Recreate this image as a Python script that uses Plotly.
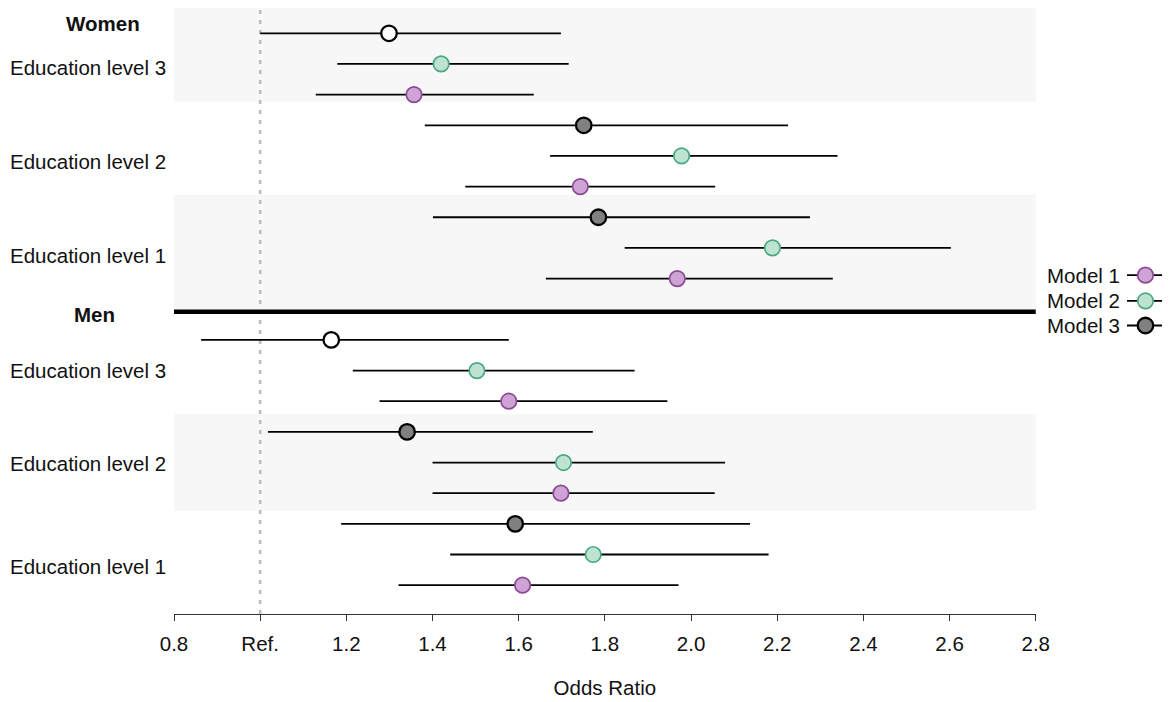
import plotly.graph_objects as go

# categories
groups = ["Women", "Men"]
levels = ["Education level 3", "Education level 2", "Education level 1"]
models = ["Model 1", "Model 2", "Model 3"]

# odds ratios and 95% CI, order: Women L3, L2, L1, Men L3, L2, L1
m1_or = [1.357, 1.743, 1.968, 1.577, 1.698, 1.609]
m1_lo = [1.129, 1.476, 1.663, 1.277, 1.400, 1.321]
m1_hi = [1.635, 2.056, 2.329, 1.945, 2.055, 1.971]

m2_or = [1.420, 1.978, 2.189, 1.503, 1.704, 1.773]
m2_lo = [1.179, 1.673, 1.846, 1.215, 1.400, 1.441]
m2_hi = [1.716, 2.340, 2.603, 1.869, 2.079, 2.180]

m3_or = [1.299, 1.751, 1.785, 1.165, 1.341, 1.592]
m3_lo = [1.000, 1.382, 1.401, 0.863, 1.018, 1.188]
m3_hi = [1.698, 2.225, 2.276, 1.577, 1.772, 2.137]

tick_vals = [0.8, 1.0, 1.2, 1.4, 1.6, 1.8, 2.0, 2.2, 2.4, 2.6, 2.8]
tick_text = ["0.8", "Ref.", "1.2", "1.4", "1.6", "1.8", "2.0", "2.2", "2.4", "2.6", "2.8"]

# styling
FONT = "Liberation Sans, Arial, sans-serif"
FS = 20.5
fills = {"Model 1": "#cfa3d6", "Model 2": "#bfe3d1", "Model 3": "#808080"}
edges = {"Model 1": "#8a4b94", "Model 2": "#4aa884", "Model 3": "#000000"}
edge_w = {"Model 1": 1.7, "Model 2": 1.7, "Model 3": 2.3}
offset = {"Model 3": 0, "Model 2": 1, "Model 1": 2}   # row inside a level block
data = {
    "Model 1": (m1_or, m1_lo, m1_hi),
    "Model 2": (m2_or, m2_lo, m2_hi),
    "Model 3": (m3_or, m3_lo, m3_hi),
}

# page geometry: figure sits 8px in from the page corner and is drawn 16px narrower
W, H, L = 1178, 694, 166
PAPER_W = (W - 16) - L


def px(x_ref):
    # screenshot x -> paper fraction
    return (x_ref - 8 - L) / PAPER_W


# label/row positions (in row units, axis reversed)
title_rows = [-0.33, 9.18]
title_x = [103, 95]
label_x = 88
label_rows = [[1.105, 4.19, 7.25], [11.01, 14.02, 17.39]]
bands = [(-0.95, 2.23), (5.27, 9.08), (12.41, 15.57)]
divider_row = 9.08
legend_rows = [7.89, 8.73, 9.53]

fig = go.Figure()

for m in models:
    orr, lo, hi = data[m]
    rows = []
    for gi in range(len(groups)):
        for li in range(len(levels)):
            rows.append(gi * 10 + li * 3 + offset[m])
    face = [fills[m] if l > 1.0 else "white" for l in lo]
    fig.add_trace(go.Scatter(
        x=orr, y=rows, mode="markers", name=m, showlegend=False,
        error_x=dict(type="data", symmetric=False,
                     array=[h - o for h, o in zip(hi, orr)],
                     arrayminus=[o - l for o, l in zip(orr, lo)],
                     color="black", thickness=1.8, width=0),
        marker=dict(size=15.5, color=face, line=dict(color=edges[m], width=edge_w[m])),
    ))

# hand-made legend (symbol to the right of text)
for m, r in zip(models, legend_rows):
    fig.add_trace(go.Scatter(
        x=[0, 1], y=[r, r], mode="lines", xaxis="x2", yaxis="y",
        line=dict(color="black", width=1.8), showlegend=False, hoverinfo="skip"))
    fig.add_trace(go.Scatter(
        x=[0.5], y=[r], mode="markers", xaxis="x2", yaxis="y", showlegend=False,
        marker=dict(size=15.5, color=fills[m], line=dict(color=edges[m], width=edge_w[m]))))
    fig.add_annotation(x=0, y=r, xref="x2", yref="y", text=m, showarrow=False,
                       xanchor="right", xshift=-5, font=dict(family=FONT, size=FS, color="#111"))

shapes = []
for y0, y1 in bands:
    shapes.append(dict(type="rect", xref="x domain", yref="y", x0=0, x1=1, y0=y0, y1=y1,
                       fillcolor="#f7f7f7", line=dict(width=0), layer="below"))
shapes.append(dict(type="line", xref="x", yref="y domain", x0=1.0, x1=1.0, y0=0, y1=1,
                   line=dict(color="#bdbdbd", width=2.6, dash="4px,6px"), layer="below"))
shapes.append(dict(type="line", xref="x domain", yref="y", x0=0, x1=1,
                   y0=divider_row, y1=divider_row, line=dict(color="black", width=4.5)))

annotations = []
for gi, g in enumerate(groups):
    annotations.append(dict(x=px(title_x[gi]), y=title_rows[gi], xref="paper", yref="y",
                            text=f"<b>{g}</b>", showarrow=False, xanchor="center",
                            font=dict(family=FONT, size=FS, color="#111")))
    for li, lv in enumerate(levels):
        annotations.append(dict(x=px(label_x), y=label_rows[gi][li], xref="paper", yref="y",
                                text=lv, showarrow=False, xanchor="center",
                                font=dict(family=FONT, size=FS, color="#111")))

fig.update_layout(
    width=W, height=H,
    margin=dict(l=L, r=0, t=0, b=88),
    paper_bgcolor="white", plot_bgcolor="white",
    font=dict(family=FONT, size=FS, color="#111"),
    showlegend=False,
    shapes=shapes,
    annotations=list(fig.layout.annotations) + annotations,
    xaxis=dict(domain=[0, 860 / PAPER_W], range=[0.8, 2.8], tickvals=tick_vals, ticktext=tick_text,
               showgrid=False, zeroline=False, showline=True, linecolor="#333", linewidth=1.3,
               ticks="outside", ticklen=6, tickwidth=1.3, tickcolor="#333",
               ticklabelstandoff=5, tickfont=dict(size=FS),
               title=dict(text="Odds Ratio", standoff=26, font=dict(size=FS))),
    xaxis2=dict(domain=[px(1125), px(1162)], range=[0, 1], anchor="y",
                visible=False, fixedrange=True),
    yaxis=dict(range=[18.94, -0.825], visible=False),
)

fig.write_html("out.html")
